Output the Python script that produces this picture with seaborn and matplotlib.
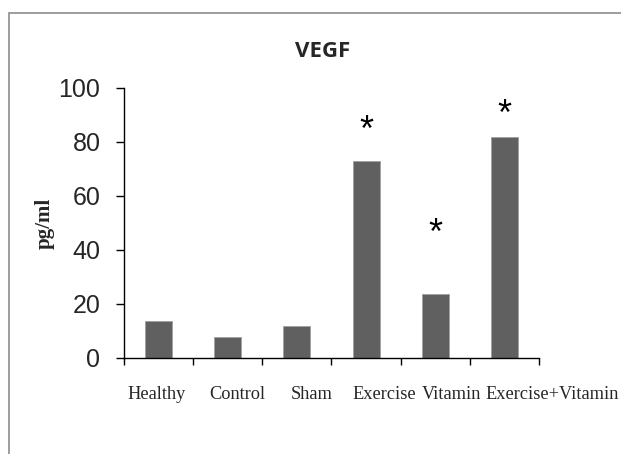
import matplotlib
matplotlib.use("Agg")
import matplotlib.pyplot as plt
import matplotlib.patches as mpatches
from matplotlib.transforms import ScaledTranslation
import seaborn as sns
import pandas as pd
import numpy as np

# Données
groups = ['Healthy', 'Control', 'Sham', 'Exercise', 'Vitamin', 'Exercise+Vitamin']
vegf = [13.7, 7.8, 12.0, 73.0, 23.8, 81.9]
stars = ['', '', '', '*', '*', '*']
star_offset = [0, 0, 0, 11.0, 22.0, 8.0]
# décalage horizontal des étiquettes (comme dans Excel), en pixels
label_shift = [-2, 10, 15, 18, 16, 48]

df = pd.DataFrame({'group': groups, 'vegf': vegf})

sns.set_style('white')
fig = plt.figure(figsize=(6.21, 4.54), dpi=100)
ax = fig.add_axes([124 / 621, 0.2115, 415 / 621, 0.5947])

sns.barplot(data=df, x='group', y='vegf', color='#606060', width=0.39,
            saturation=1, ax=ax, edgecolor='#a0a0a0', linewidth=0.6)

ax.set_ylim(0, 100)
ax.set_xlim(-0.5, len(groups) - 0.5)
ax.set_yticks(np.arange(0, 101, 20))
ax.tick_params(axis='y', which='major', direction='out', length=6, width=1,
               pad=11, labelsize=18, color='black', left=True)
for lab in ax.get_yticklabels():
    lab.set_fontfamily('Liberation Sans')

# graduations x aux limites des catégories
ax.set_xticks(np.arange(-0.5, len(groups), 1.0), minor=True)
ax.tick_params(axis='x', which='minor', direction='out', length=5, width=1,
               color='black', bottom=True)
ax.tick_params(axis='x', which='major', length=0, pad=20)
ax.set_xticks(range(len(groups)))
ax.set_xticklabels(groups, family='Liberation Serif', fontsize=13.2)
for lab, dx in zip(ax.get_xticklabels(), label_shift):
    lab.set_transform(lab.get_transform() + ScaledTranslation(dx / 100, 0, fig.dpi_scale_trans))

for side in ['top', 'right']:
    ax.spines[side].set_visible(False)
for side in ['left', 'bottom']:
    ax.spines[side].set_color('black')
    ax.spines[side].set_linewidth(1)

ax.set_xlabel('')
ax.set_ylabel('pg/ml', family='Liberation Serif', fontweight='bold',
              fontsize=15, labelpad=3)
ax.set_title('VEGF', family='Open Sans', fontweight='bold', fontsize=16,
             pad=22, x=(323 - 124) / 415)

for i, (s, v, off) in enumerate(zip(stars, vegf, star_offset)):
    if s:
        ax.text(i, v + off, s, ha='center', va='center', fontsize=26,
                family='Liberation Sans', color='black')

# cadre extérieur
frame = mpatches.Rectangle((9 / 621, -0.05), 1.2, 1 - 13 / 454 + 0.05,
                           transform=fig.transFigure, fill=False,
                           edgecolor='#8c8c8c', linewidth=1.2, clip_on=False)
fig.patches.append(frame)

fig.savefig('out.png', dpi=100)
